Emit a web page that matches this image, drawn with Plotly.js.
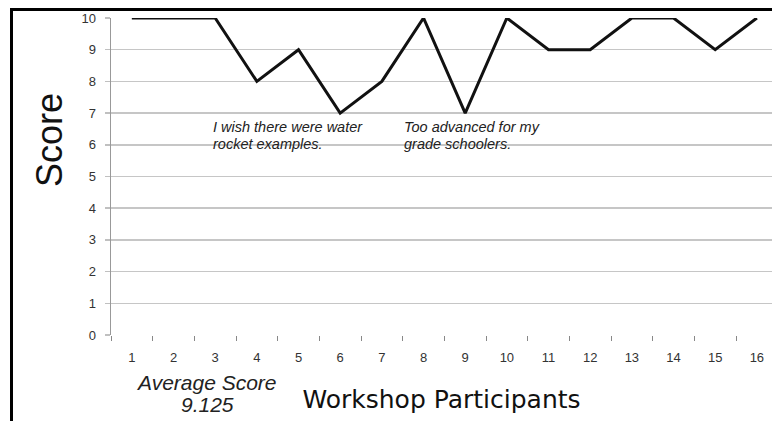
<!DOCTYPE html>
<html>
<head>
<meta charset="utf-8">
<script src="https://cdn.plot.ly/plotly-3.0.1.min.js"></script>
<style>
  html, body { margin: 0; padding: 0; background: #fff; overflow: hidden; }
  #wrap { position: relative; width: 772px; height: 421px; }
  #chart { position: absolute; left: 0; top: 0; width: 772px; height: 421px; }
  #frame { position: absolute; left: 10px; top: 8px; width: 770px; height: 420px;
           border-top: 3px solid #000; border-left: 3px solid #000; pointer-events: none; }
</style>
</head>
<body>
<div id="wrap">
  <div id="chart"></div>
  <div id="frame"></div>
</div>
<script>
const participants = ["1","2","3","4","5","6","7","8","9","10","11","12","13","14","15","16"];
const scores = [10, 10, 10, 8, 9, 7, 8, 10, 7, 10, 9, 9, 10, 10, 9, 10];
const yTicks = [0,1,2,3,4,5,6,7,8,9,10];
const yTitle = "Score";
const xTitle = "Workshop Participants";
const averageLabel = "Average Score";
const averageValue = "9.125";
const comment1 = ["I wish there were water", "rocket examples."];
const comment2 = ["Too advanced for my", "grade schoolers."];

const trace = {
  type: 'scatter',
  mode: 'lines',
  x: participants,
  y: scores,
  line: { color: '#111', width: 3 },
  cliponaxis: false,
  hoverinfo: 'x+y'
};

const arial = 'Arial, "Liberation Sans", sans-serif';
const italic = { family: arial, size: 14.5, color: '#222', style: 'italic' };

const layout = {
  width: 772, height: 421,
  margin: { l: 111, r: 0, t: 18, b: 86 },
  paper_bgcolor: '#fff', plot_bgcolor: '#fff',
  showlegend: false,
  font: { family: arial, color: '#333' },
  xaxis: {
    type: 'category',
    range: [-0.5, 15.363],
    tickson: 'boundaries',
    ticks: 'outside', ticklen: 5, tickcolor: '#888', tickwidth: 1,
    showgrid: false, zeroline: false, showline: false,
    tickfont: { size: 13, color: '#333' },
    ticklabelstandoff: 13,
    title: { text: xTitle, font: { family: '"DejaVu Sans", sans-serif', size: 25, color: '#111' }, standoff: 26 },
    automargin: false
  },
  yaxis: {
    range: [0, 10],
    tickvals: yTicks,
    ticks: 'outside', ticklen: 5, tickcolor: '#c0c0c0', tickwidth: 1.5,
    showgrid: true, gridcolor: '#c6c6c6', gridwidth: 1.5,
    zeroline: false,
    showline: true, linecolor: '#999', linewidth: 1.5,
    tickfont: { size: 13, color: '#333' },
    ticklabelstandoff: 6,
    automargin: false
  },
  annotations: [
    { xref: 'paper', yref: 'paper', x: -0.0938, y: 0.615, xanchor: 'center', yanchor: 'middle', textangle: -90,
      text: yTitle, showarrow: false, font: { family: arial, size: 36, color: '#111' } },
    { xref: 'x', yref: 'y', x: 1.90, y: 6.56, xanchor: 'left', yanchor: 'middle', text: comment1[0], showarrow: false, font: italic },
    { xref: 'x', yref: 'y', x: 1.90, y: 6.02, xanchor: 'left', yanchor: 'middle', text: comment1[1], showarrow: false, font: italic },
    { xref: 'x', yref: 'y', x: 6.48, y: 6.56, xanchor: 'left', yanchor: 'middle', text: comment2[0], showarrow: false, font: italic },
    { xref: 'x', yref: 'y', x: 6.48, y: 6.02, xanchor: 'left', yanchor: 'middle', text: comment2[1], showarrow: false, font: italic },
    { xref: 'paper', yref: 'paper', x: 0.1445, y: -0.1514, xanchor: 'center', yanchor: 'middle', text: averageLabel, showarrow: false,
      font: { family: arial, size: 21, color: '#222', style: 'italic' } },
    { xref: 'paper', yref: 'paper', x: 0.1467, y: -0.219, xanchor: 'center', yanchor: 'middle', text: averageValue, showarrow: false,
      font: { family: arial, size: 21, color: '#222', style: 'italic' } }
  ]
};

Plotly.newPlot('chart', [trace], layout, { staticPlot: true, displayModeBar: false });
</script>
</body>
</html>
